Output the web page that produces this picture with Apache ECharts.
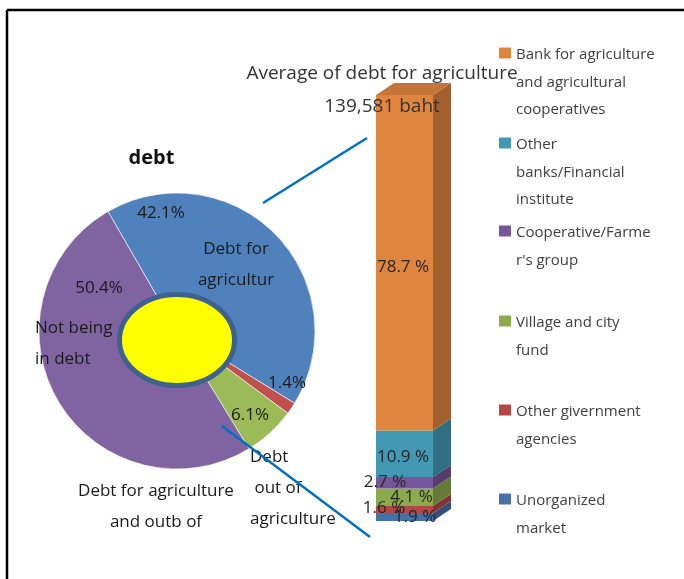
<!DOCTYPE html>
<html><head><meta charset="utf-8">
<script src="https://cdn.jsdelivr.net/npm/echarts@6/dist/echarts.min.js"></script>
<style>html,body{margin:0;padding:0;background:#fff}#c{width:684px;height:579px}</style>
</head><body><div id="c"></div>
<script>
// ---- data ----
const pieTitle = 'debt';
const pieCategories = ['Debt for agricultur', 'Debt for agriculture and outb of', 'Debt out of agriculture', 'Not being in debt'];
const pieLabels = ['Debt for\nagricultur', 'Debt for agriculture\nand outb of', 'Debt\n out of\nagriculture', 'Not being\nin debt'];
const pieValues = [42.1, 1.4, 6.1, 50.4];

const barTitle = ['Average of debt for agriculture', '139,581 baht'];
const barAxisCategories = [''];
const barSeriesNames = ['Unorganized\nmarket', 'Other givernment\nagencies', 'Village and city\nfund', "Cooperative/Farme\nr's group", 'Other\nbanks/Financial\ninstitute', 'Bank for agriculture\nand agricultural\ncooperatives'];
const barValues = [1.9, 1.6, 4.1, 2.7, 10.9, 78.7];

// ---- styles ----
const FONT = 'Open Sans';
const pieColors = ['#4F81BD', '#C0504D', '#9BBB59', '#8064A2'];
const barColors = ['#4672AB', '#B44644', '#8CAA4E', '#76569A', '#4399B4', '#E0853E'];
const pctPos = [[161, 213], [287, 383], [250, 415], [99, 288]];
const namePos = [[236, 264.5, 'center'], [156, 507, 'center'], [250, 488, 'left'], [35, 344, 'left']];
const barLabelOffset = [[10.5, 0.5], [-20.5, -1], [7, 0], [-19.5, -1], [-1.5, 3], [-1.5, 4]];
const legendFirstLine = [55, 145, 233, 323, 412, 501]; // top to bottom
const DX = 18, DY = -12, LH = 27.5;

function shade(hex, f) {
  const n = parseInt(hex.slice(1), 16);
  const r = Math.round(((n >> 16) & 255) * f), g = Math.round(((n >> 8) & 255) * f), b = Math.round((n & 255) * f);
  return 'rgb(' + r + ',' + g + ',' + b + ')';
}

const total = barValues.reduce((a, b) => a + b, 0);
const sideData = [];
let acc = 0;
barValues.forEach((v, i) => { sideData.push([0, acc, acc + v, i]); acc += v; });

const barSeries = barValues.map((v, i) => ({
  name: barSeriesNames[i],
  type: 'bar',
  stack: 'debt',
  barWidth: '100%',
  z: 2,
  data: [v],
  itemStyle: { color: barColors[i] },
  label: {
    show: true, position: 'inside', formatter: '{c} %',
    offset: barLabelOffset[i],
    fontFamily: FONT, fontSize: 17, color: '#262626'
  }
}));

const legendOrder = barSeriesNames.map((n, i) => i).reverse();
const legends = legendOrder.map((si, k) => {
  const name = barSeriesNames[si];
  const n = name.split('\n').length;
  return {
    data: [{ name: name, icon: 'path://M0 6.25h12v11h-12Z M0 0 M0 ' + (n * LH) }],
    left: 499, top: legendFirstLine[k] - LH / 2,
    orient: 'vertical', padding: 0,
    itemWidth: 12, itemHeight: n * LH,
    selectedMode: false,
    textStyle: { fontFamily: FONT, fontSize: 15, lineHeight: LH, color: '#404040' }
  };
});

const pieDataVisible = pieValues.map((v, i) => ({ name: pieCategories[i], value: v, itemStyle: { color: pieColors[i] } }));
const pieDataNames = pieValues.map((v, i) => ({ name: pieCategories[i], value: v }));

const option = {
  animation: false,
  backgroundColor: '#ffffff',
  title: [
    { text: pieTitle, left: 151.5, top: 145.5, textAlign: 'center', padding: 0,
      textStyle: { fontFamily: FONT, fontSize: 20, fontWeight: 'bold', color: '#111', lineHeight: 25 } },
    { text: barTitle.join('\n'), left: 382, top: 57.5, textAlign: 'center', padding: 0, z: 10,
      textStyle: { fontFamily: FONT, fontSize: 19, fontWeight: 'normal', color: '#333', lineHeight: 33 } }
  ],
  legend: legends,
  grid: { left: 376, right: 251, top: 95, bottom: 58 },
  xAxis: { type: 'category', data: barAxisCategories, show: false },
  yAxis: { type: 'value', min: 0, max: total, show: false },
  series: [
    {
      type: 'custom', z: 1, silent: true,
      renderItem: function (params, api) {
        const i = api.value(3);
        const p0 = api.coord([api.value(0), api.value(1)]);
        const p1 = api.coord([api.value(0), api.value(2)]);
        const w = api.size([1, 0])[0];
        const xL = p0[0] - w / 2, xR = p0[0] + w / 2;
        const yB = p0[1], yT = p1[1];
        const ch = [{
          type: 'polygon',
          shape: { points: [[xR, yB], [xR + DX, yB + DY], [xR + DX, yT + DY], [xR, yT]] },
          style: { fill: shade(barColors[i], 0.72) }
        }];
        if (i === barValues.length - 1) {
          ch.push({
            type: 'polygon',
            shape: { points: [[xL, yT], [xL + DX, yT + DY], [xR + DX, yT + DY], [xR, yT]] },
            style: { fill: shade(barColors[i], 0.88) }
          });
        }
        return { type: 'group', children: ch };
      },
      data: sideData
    },
    ...barSeries,
    {
      type: 'pie', center: [177, 331], radius: [0, 138], startAngle: 120, clockwise: true,
      avoidLabelOverlap: false, z: 2,
      data: pieDataVisible,
      itemStyle: { borderColor: '#ffffff', borderWidth: 0.6 },
      label: { show: true, position: 'inside', formatter: '{c}%', fontFamily: FONT, fontSize: 17, color: '#1a1a1a' },
      labelLine: { show: false },
      labelLayout: function (p) {
        const q = pctPos[p.dataIndex];
        return { x: q[0], y: q[1], align: 'center', verticalAlign: 'middle' };
      }
    },
    {
      type: 'pie', center: [177, 331], radius: [0, 138], startAngle: 120, clockwise: true,
      avoidLabelOverlap: false, silent: true, z: 3,
      data: pieDataNames,
      itemStyle: { color: 'rgba(0,0,0,0)', borderWidth: 0 },
      label: {
        show: true, position: 'inside',
        formatter: function (p) { return pieLabels[p.dataIndex]; },
        fontFamily: FONT, fontSize: 17, lineHeight: 31, color: '#1a1a1a'
      },
      labelLine: { show: false },
      labelLayout: function (p) {
        const q = namePos[p.dataIndex];
        return { x: q[0], y: q[1], align: q[2], verticalAlign: 'middle' };
      }
    }
  ],
  graphic: [
    { type: 'line', z: 100, shape: { x1: 7, y1: 10, x2: 684, y2: 10 }, style: { stroke: '#000', lineWidth: 2.5 } },
    { type: 'line', z: 100, shape: { x1: 7, y1: 10, x2: 7, y2: 579 }, style: { stroke: '#000', lineWidth: 2.5 } },
    { type: 'ellipse', z: 100, shape: { cx: 177, cy: 340, rx: 57.5, ry: 45.5 }, style: { fill: '#FFFF00', stroke: '#3F6190', lineWidth: 5 } },
    { type: 'line', z: 100, shape: { x1: 263, y1: 203, x2: 367, y2: 138 }, style: { stroke: '#0070C0', lineWidth: 2.5 } },
    { type: 'line', z: 100, shape: { x1: 222, y1: 426, x2: 370, y2: 537 }, style: { stroke: '#0070C0', lineWidth: 2.5 } }
  ]
};

const chart = echarts.init(document.getElementById('c'), null, { renderer: 'canvas' });
chart.setOption(option);
</script>
</body></html>
